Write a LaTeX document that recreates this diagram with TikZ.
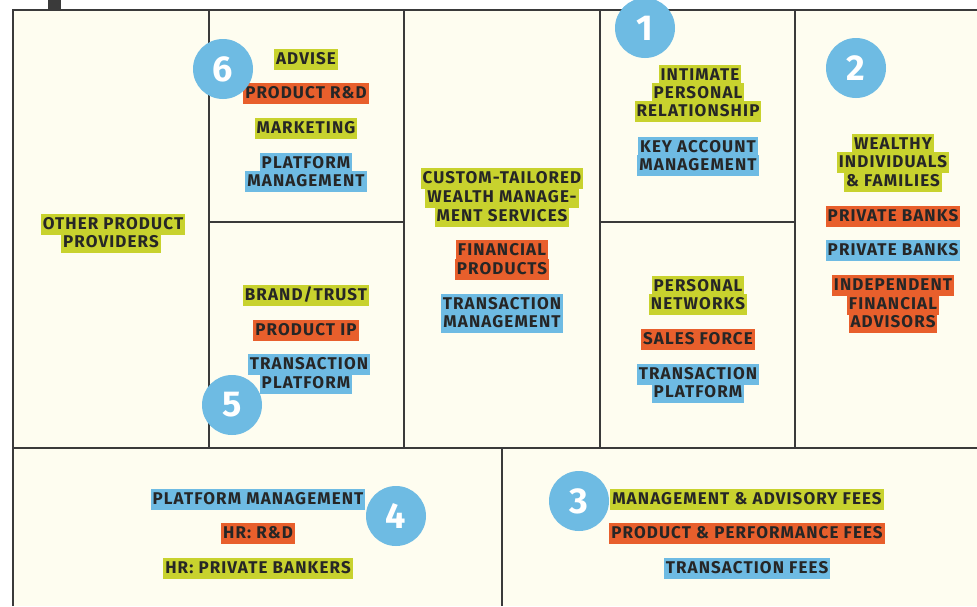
\documentclass[tikz,border=0pt]{standalone}
\usepackage{fontspec}
\setmainfont{Fira Sans}[LetterSpace=6.5]
\definecolor{cream}{HTML}{FEFDF0}
\definecolor{lime}{HTML}{C8D22E}
\definecolor{orng}{HTML}{E85F2C}
\definecolor{sky}{HTML}{6EBBE3}
\definecolor{ink}{HTML}{262626}
\definecolor{frame}{HTML}{3A3A3A}
\begin{document}
\begin{tikzpicture}[x=1pt,y=-1pt,
 hl/.style={yshift=-1.5pt,inner xsep=2pt,inner ysep=1pt,text height=14pt,text depth=5pt,font=\fontsize{17}{17}\selectfont\bfseries,text=ink},
 g/.style={hl,fill=lime}, o/.style={hl,fill=orng}, b/.style={hl,fill=sky},
 num/.style={circle,fill=sky,minimum size=60pt,inner sep=0pt,text=white,font=\fontsize{36}{36}\selectfont\bfseries},
 ln/.style={draw=frame,line width=1.6pt}]
\useasboundingbox (0,0) rectangle (977,606);
\fill[cream] (13,10) rectangle (977,606);
\fill[frame] (48,0) rectangle (61,10);
\draw[ln,line width=2.2pt] (13,606) -- (13,10) -- (977,10);
\draw[ln] (13,448) -- (977,448);
\foreach \x in {209,404,600,795} \draw[ln] (\x,10) -- (\x,448);
\draw[ln] (209,222) -- (404,222);
\draw[ln] (600,222) -- (795,222);
\draw[ln] (502,448) -- (502,606);
% key partners
\node[g] (op1) at (113,223) {OTHER PRODUCT};
\node[g] (op2) at (111,241) {PROVIDERS};
% key activities
\node[g] (adv) at (306,58) {ADVISE};
\node[o] (prd) at (306,92) {PRODUCT R\&D};
\node[g] (mkt) at (306,127) {MARKETING};
\node[b] (pm1) at (306,162) {PLATFORM};
\node[b] (pm2) at (306,180) {MANAGEMENT};
% key resources
\node[g] (brd) at (306,294) {BRAND/TRUST};
\node[o] (pip) at (306,329) {PRODUCT IP};
\node[b] (tp1) at (309,363) {TRANSACTION};
\node[b] (tp2) at (306,382) {PLATFORM};
% value proposition
\node[g] (vp1) at (502,177) {CUSTOM-TAILORED};
\node[g] (vp2) at (502,196) {WEALTH MANAGE-};
\node[g] (vp3) at (502,215) {MENT SERVICES};
\node[o] (fp1) at (502,249) {FINANCIAL};
\node[o] (fp2) at (502,268) {PRODUCTS};
\node[b] (tm1) at (502,303) {TRANSACTION};
\node[b] (tm2) at (502,321) {MANAGEMENT};
% customer relationships
\node[g] (ip1) at (700,74) {INTIMATE};
\node[g] (ip2) at (698,92) {PERSONAL};
\node[g] (ip3) at (698,110) {RELATIONSHIP};
\node[b] (ka1) at (698,146) {KEY ACCOUNT};
\node[b] (ka2) at (698,164) {MANAGEMENT};
% channels
\node[g] (pn1) at (698,285) {PERSONAL};
\node[g] (pn2) at (698,303) {NETWORKS};
\node[o] (sf) at (698,338) {SALES FORCE};
\node[b] (ct1) at (698,373) {TRANSACTION};
\node[b] (ct2) at (698,391) {PLATFORM};
% customer segments
\node[g] (wi1) at (893,143) {WEALTHY};
\node[g] (wi2) at (893,161) {INDIVIDUALS};
\node[g] (wi3) at (893,180) {\& FAMILIES};
\node[o] (pbo) at (893,215) {PRIVATE BANKS};
\node[b] (pbb) at (893,249) {PRIVATE BANKS};
\node[o] (if1) at (893,284) {INDEPENDENT};
\node[o] (if2) at (893,303) {FINANCIAL};
\node[o] (if3) at (893,321) {ADVISORS};
% cost structure
\node[b] (cpm) at (258,498) {PLATFORM MANAGEMENT};
\node[o] (hrd) at (258,532) {HR: R\&D};
\node[g] (hpb) at (258,567) {HR: PRIVATE BANKERS};
% revenue streams
\node[g] (maf) at (747,498) {MANAGEMENT \& ADVISORY FEES};
\node[o] (ppf) at (747,532) {PRODUCT \& PERFORMANCE FEES};
\node[b] (trf) at (747,567) {TRANSACTION FEES};
% numbers
\node[num] (n1) at (645,28) {1};
\node[num] (n2) at (856,68) {2};
\node[num] (n3) at (579,501) {3};
\node[num] (n4) at (396,516) {4};
\node[num] (n5) at (232,405) {5};
\node[num] (n6) at (223,69) {6};
\end{tikzpicture}
\end{document}
